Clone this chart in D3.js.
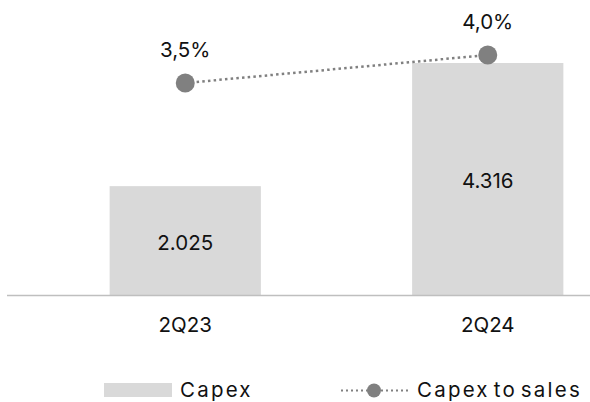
<!DOCTYPE html>
<html>
<head>
<meta charset="utf-8">
<script src="https://cdn.jsdelivr.net/npm/d3@7"></script>
<style>
  body { margin: 0; background: #fff; }
  text { font-family: "Inter", "Noto Sans", sans-serif; fill: #111; }
</style>
</head>
<body>
<script>
var width = 590, height = 402;

var quarters = ["2Q23", "2Q24"];
var capex = [2025, 4316];
var capexLabels = ["2.025", "4.316"];
var capexToSales = [3.5, 4.0];
var ratioLabels = ["3,5%", "4,0%"];

var barColor = "#d9d9d9";
var lineColor = "#808080";

var svg = d3.select("body")
  .append("svg")
    .attr("width", width)
    .attr("height", height);

var x = d3.scaleBand()
    .domain(quarters)
    .range([34, 639])
    .paddingInner(0.5)
    .paddingOuter(0.25);

var y = d3.scaleLinear()
    .domain([0, 5000])
    .range([295, 26.25]);

// separate scale for the percentage line
var y2 = d3.scaleLinear()
    .domain([3, 4.5])
    .range([111, 27]);

// bars
svg.selectAll("rect.bar")
  .data(quarters)
  .enter()
  .append("rect")
    .attr("class", "bar")
    .attr("x", function(d) { return x(d); })
    .attr("width", x.bandwidth())
    .attr("y", function(d, i) { return y(capex[i]); })
    .attr("height", function(d, i) { return y(0) - y(capex[i]); })
    .style("fill", barColor);

svg.selectAll("text.barlabel")
  .data(quarters)
  .enter()
  .append("text")
    .attr("class", "barlabel")
    .attr("x", function(d) { return x(d) + x.bandwidth() / 2; })
    .attr("y", function(d, i) { return (y(capex[i]) + y(0)) / 2 + 9; })
    .attr("text-anchor", "middle")
    .style("font-size", "20.5px")
    .text(function(d, i) { return capexLabels[i]; });

// axis baseline
svg.append("line")
    .attr("x1", 7)
    .attr("x2", width)
    .attr("y1", y(0) + 0.5)
    .attr("y2", y(0) + 0.5)
    .style("stroke", "#bfbfbf")
    .style("stroke-width", 1.5);

var xAxis = svg.append("g")
    .attr("transform", "translate(0," + y(0) + ")")
    .call(d3.axisBottom(x).tickSize(0).tickPadding(22));
xAxis.select(".domain").remove();
xAxis.selectAll("text")
    .style("font-size", "20.5px")
    .style("font-family", "Inter, 'Noto Sans', sans-serif")
    .attr("fill", "#111");

// capex to sales line
var line = d3.line()
    .x(function(d, i) { return x(quarters[i]) + x.bandwidth() / 2; })
    .y(function(d) { return y2(d); });

svg.append("path")
    .datum(capexToSales)
    .attr("d", line)
    .style("fill", "none")
    .style("stroke", lineColor)
    .style("stroke-width", 2.5)
    .style("stroke-dasharray", "2.5,3.2");

svg.selectAll("circle.pt")
  .data(capexToSales)
  .enter()
  .append("circle")
    .attr("class", "pt")
    .attr("cx", function(d, i) { return x(quarters[i]) + x.bandwidth() / 2; })
    .attr("cy", function(d) { return y2(d); })
    .attr("r", 9.5)
    .style("fill", lineColor);

svg.selectAll("text.ptlabel")
  .data(capexToSales)
  .enter()
  .append("text")
    .attr("class", "ptlabel")
    .attr("x", function(d, i) { return x(quarters[i]) + x.bandwidth() / 2; })
    .attr("y", function(d) { return y2(d) - 26; })
    .attr("text-anchor", "middle")
    .style("font-size", "20.5px")
    .text(function(d, i) { return ratioLabels[i]; });

// legend
var legend = svg.append("g");

legend.append("rect")
    .attr("x", 104)
    .attr("y", 383)
    .attr("width", 68)
    .attr("height", 14)
    .style("fill", barColor);

legend.append("text")
    .attr("x", 180)
    .attr("y", 397)
    .style("font-size", "20.5px")
    .style("letter-spacing", "2.2px")
    .style("word-spacing", "-4px")
    .text("Capex");

legend.append("line")
    .attr("x1", 341)
    .attr("x2", 410)
    .attr("y1", 390.5)
    .attr("y2", 390.5)
    .style("stroke", lineColor)
    .style("stroke-width", 2)
    .style("stroke-dasharray", "2,3");

legend.append("circle")
    .attr("cx", 374)
    .attr("cy", 390.5)
    .attr("r", 7)
    .style("fill", lineColor);

legend.append("text")
    .attr("x", 417)
    .attr("y", 397)
    .style("font-size", "20.5px")
    .style("letter-spacing", "2.2px")
    .style("word-spacing", "-4px")
    .text("Capex to sales");
</script>
</body>
</html>
